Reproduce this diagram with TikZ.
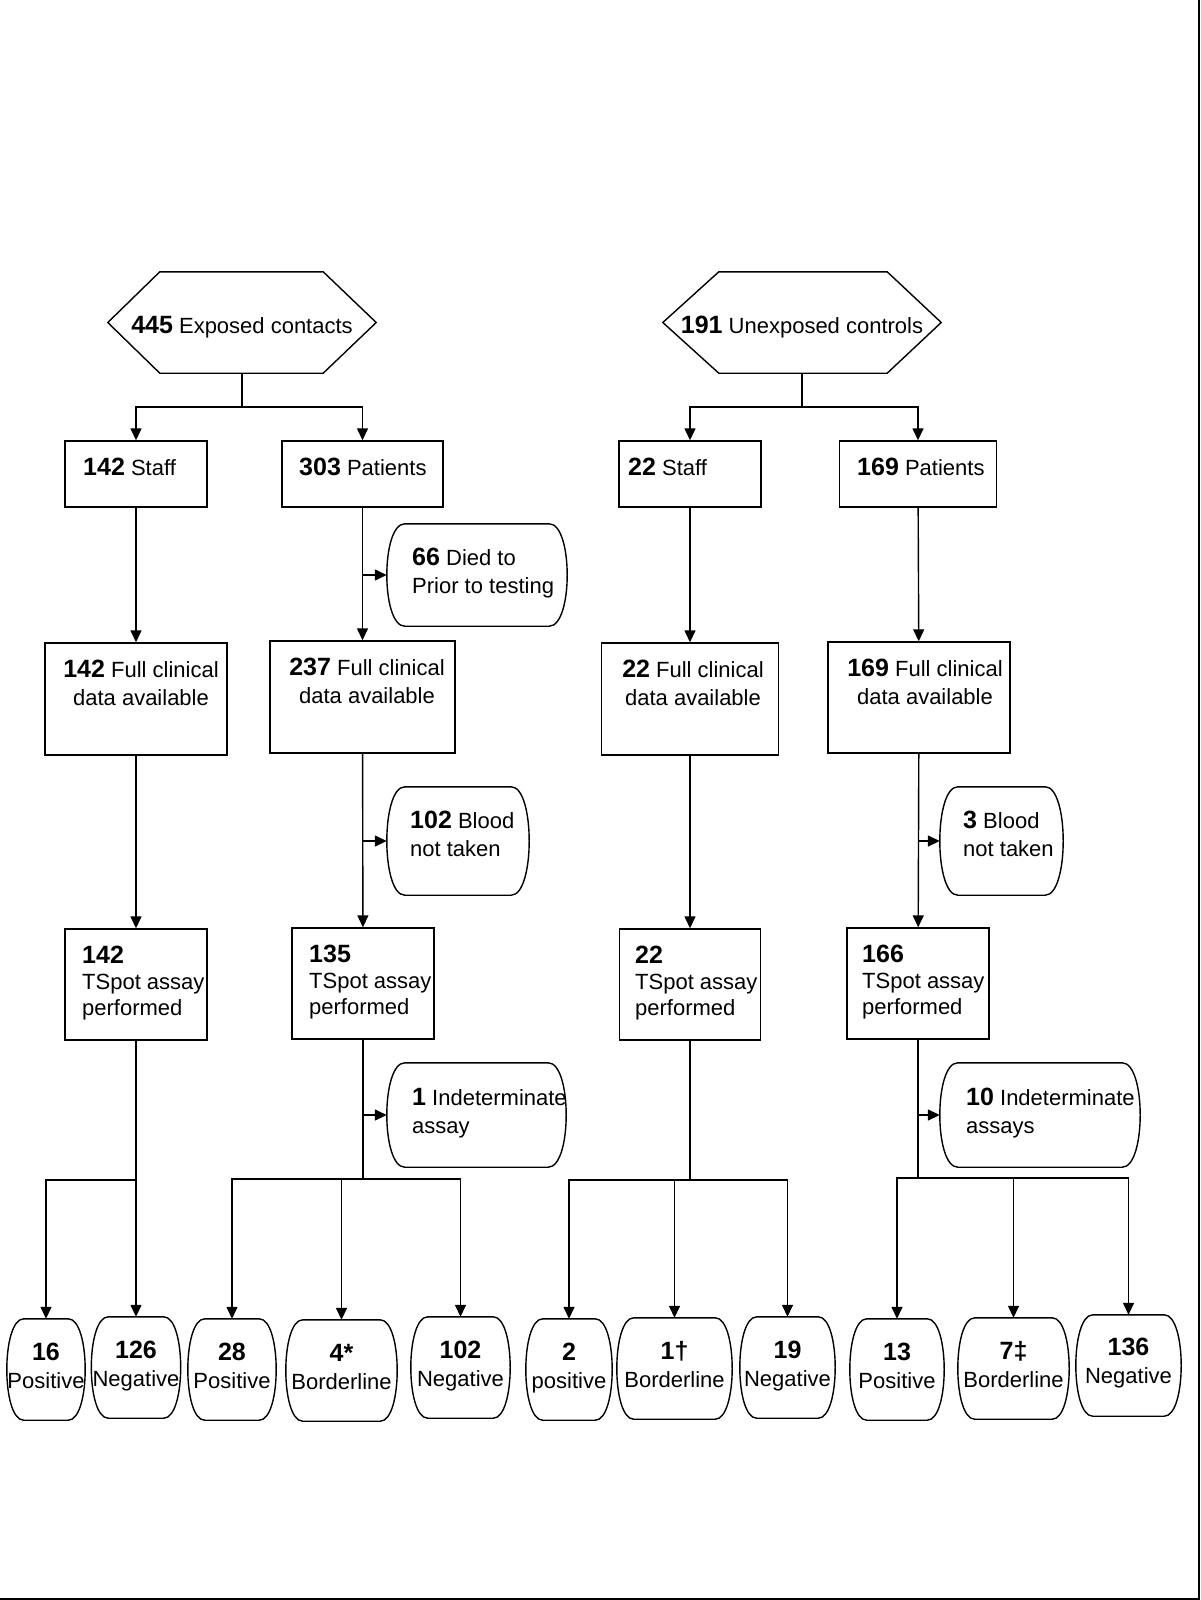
\documentclass[tikz,border=0pt]{standalone}
\usepackage{fontspec}
\setmainfont{Liberation Sans}
\usetikzlibrary{arrows.meta,calc}

\newcommand\bnum[1]{{\fontsize{25}{28}\selectfont\bfseries #1}}
\newcommand\mystrut{\rule{0pt}{18pt}}
\newcommand\barrel[2]{\draw[shp] ([xshift=#2]#1.north west) -- ([xshift=-#2]#1.north east) .. controls ([xshift={#2/3}]#1.north east) and ([xshift={#2/3}]#1.south east) .. ([xshift=-#2]#1.south east) -- ([xshift=#2]#1.south west) .. controls ([xshift={-#2/3}]#1.south west) and ([xshift={-#2/3}]#1.north west) .. cycle;}

\begin{document}
\begin{tikzpicture}[x=1pt, y=-1pt,
  txt/.style={font=\fontsize{22}{28}\selectfont, inner sep=0pt},
  tsp/.style={font=\fontsize{22}{26}\selectfont, inner sep=0pt, align=left},
  bx/.style={draw, line width=1.4pt, inner sep=0pt},
  ghost/.style={inner sep=0pt, draw=none},
  shp/.style={line width=1.4pt},
  arr/.style={line width=1.4pt, -{Triangle[length=12pt,width=11pt]}}]
\useasboundingbox (0,0) rectangle (1200,1600);
\draw[line width=2pt] (0,1599) -- (1199,1599) -- (1199,0);

% ---------- hexagons ----------
\node[ghost, minimum width=268pt, minimum height=101pt] (hexA) at (242,322.5) {};
\node[ghost, minimum width=278pt, minimum height=101pt] (hexB) at (802,322.5) {};
\draw[shp] (hexA.west) -- ([xshift=52pt]hexA.north west) -- ([xshift=-53pt]hexA.north east) -- (hexA.east) -- ([xshift=-53pt]hexA.south east) -- ([xshift=52pt]hexA.south west) -- cycle;
\draw[shp] (hexB.west) -- ([xshift=56pt]hexB.north west) -- ([xshift=-54pt]hexB.north east) -- (hexB.east) -- ([xshift=-54pt]hexB.south east) -- ([xshift=56pt]hexB.south west) -- cycle;
\node[txt, anchor=north] (hexAt) at (242,315) {\mystrut\bnum{445} Exposed contacts};
\node[txt, anchor=north] (hexBt) at (802,315) {\mystrut\bnum{191} Unexposed controls};

% ---------- level 1 ----------
\node[bx, minimum width=142pt, minimum height=66pt] (sA) at (136,474) {};
\node[bx, minimum width=161pt, minimum height=66pt] (pA) at (362.5,474) {};
\node[bx, minimum width=142pt, minimum height=66pt] (sB) at (690,474) {};
\node[bx, minimum width=157pt, minimum height=66pt] (pB) at (918,474) {};
\node[txt, anchor=north west] (sAt) at (83,457) {\mystrut\bnum{142} Staff};
\node[txt, anchor=north west] (pAt) at (299,457) {\mystrut\bnum{303} Patients};
\node[txt, anchor=north west] (sBt) at (628,457) {\mystrut\bnum{22} Staff};
\node[txt, anchor=north west] (pBt) at (857,457) {\mystrut\bnum{169} Patients};

% ---------- level 2 ----------
\node[bx, minimum width=182pt, minimum height=112pt] (C1) at (136,699) {};
\node[bx, minimum width=185pt, minimum height=112pt] (C2) at (362.5,697) {};
\node[bx, minimum width=177pt, minimum height=112pt] (C3) at (690,699) {};
\node[bx, minimum width=182pt, minimum height=111pt] (C4) at (919,697.5) {};
\node[txt, align=center, anchor=north] (C1t) at (141,659) {\mystrut\bnum{142} Full clinical\\data available};
\node[txt, align=center, anchor=north] (C2t) at (367,657) {\mystrut\bnum{237} Full clinical\\data available};
\node[txt, align=center, anchor=north] (C3t) at (693,659) {\mystrut\bnum{22} Full clinical\\data available};
\node[txt, align=center, anchor=north] (C4t) at (925,658) {\mystrut\bnum{169} Full clinical\\data available};

% ---------- side ovals ----------
\node[ghost, minimum width=180pt, minimum height=102pt] (O1) at (477,575) {};
\node[ghost, minimum width=142pt, minimum height=108pt] (O2) at (458,841) {};
\node[ghost, minimum width=123pt, minimum height=108pt] (O3) at (1001.5,841) {};
\node[ghost, minimum width=179pt, minimum height=104pt] (O4) at (476.5,1115) {};
\node[ghost, minimum width=200pt, minimum height=104pt] (O5) at (1040,1115) {};
\barrel{O1}{18pt}
\barrel{O2}{18pt}
\barrel{O3}{18pt}
\barrel{O4}{18pt}
\barrel{O5}{18pt}
\node[txt, align=left, anchor=north west] (O1t) at (412,547) {\mystrut\bnum{66} Died to\\Prior to testing};
\node[txt, align=left, anchor=north west] (O2t) at (410,810) {\mystrut\bnum{102} Blood\\not taken};
\node[txt, align=left, anchor=north west] (O3t) at (963,810) {\mystrut\bnum{3} Blood\\not taken};
\node[txt, align=left, anchor=north west] (O4t) at (412,1087) {\mystrut\bnum{1} Indeterminate\\assay};
\node[txt, align=left, anchor=north west] (O5t) at (966,1087) {\mystrut\bnum{10} Indeterminate\\assays};

% ---------- level 3 ----------
\node[bx, minimum width=142pt, minimum height=111pt] (T1) at (136,984.5) {};
\node[bx, minimum width=142pt, minimum height=111pt] (T2) at (363,983.5) {};
\node[bx, minimum width=141pt, minimum height=111pt] (T3) at (690,984.5) {};
\node[bx, minimum width=142pt, minimum height=111pt] (T4) at (918,983.5) {};
\node[tsp, anchor=north west] (T1t) at (82,945) {\mystrut\bnum{142}\\TSpot assay\\performed};
\node[tsp, anchor=north west] (T2t) at (309,944) {\mystrut\bnum{135}\\TSpot assay\\performed};
\node[tsp, anchor=north west] (T3t) at (635,945) {\mystrut\bnum{22}\\TSpot assay\\performed};
\node[tsp, anchor=north west] (T4t) at (862,944) {\mystrut\bnum{166}\\TSpot assay\\performed};

% ---------- bottom results ----------
\node[ghost, minimum width=78pt,  minimum height=101pt] (B1)  at (46,1369.5) {};
\node[ghost, minimum width=89pt,  minimum height=101pt] (B2)  at (136,1367.5) {};
\node[ghost, minimum width=88pt,  minimum height=101pt] (B3)  at (232,1369.5) {};
\node[ghost, minimum width=111pt, minimum height=101pt] (B4)  at (341.5,1370.5) {};
\node[ghost, minimum width=99pt,  minimum height=101pt] (B5)  at (460.5,1367.5) {};
\node[ghost, minimum width=86pt,  minimum height=101pt] (B6)  at (569,1369.5) {};
\node[ghost, minimum width=115pt, minimum height=101pt] (B7)  at (674.5,1368.5) {};
\node[ghost, minimum width=95pt,  minimum height=101pt] (B8)  at (787.5,1367.5) {};
\node[ghost, minimum width=94pt,  minimum height=101pt] (B9)  at (897,1369.5) {};
\node[ghost, minimum width=111pt, minimum height=101pt] (B10) at (1013.5,1368.5) {};
\node[ghost, minimum width=105pt, minimum height=101pt] (B11) at (1128.5,1365.5) {};
\foreach \b in {B1,B2,B3,B4,B5,B6,B7,B8,B9,B10,B11} {\barrel{\b}{17pt}}
\node[txt, align=center, anchor=north] (B1t)  at (46,1342)    {\mystrut\bnum{16}\\Positive};
\node[txt, align=center, anchor=north] (B2t)  at (136,1340)   {\mystrut\bnum{126}\\Negative};
\node[txt, align=center, anchor=north] (B3t)  at (232,1342)   {\mystrut\bnum{28}\\Positive};
\node[txt, align=center, anchor=north] (B4t)  at (341.5,1343) {\mystrut\bnum{4*}\\Borderline};
\node[txt, align=center, anchor=north] (B5t)  at (460.5,1340) {\mystrut\bnum{102}\\Negative};
\node[txt, align=center, anchor=north] (B6t)  at (569,1342)   {\mystrut\bnum{2}\\positive};
\node[txt, align=center, anchor=north] (B7t)  at (674.5,1341) {\mystrut\bnum{1†}\\Borderline};
\node[txt, align=center, anchor=north] (B8t)  at (787.5,1340) {\mystrut\bnum{19}\\Negative};
\node[txt, align=center, anchor=north] (B9t)  at (897,1342)   {\mystrut\bnum{13}\\Positive};
\node[txt, align=center, anchor=north] (B10t) at (1013.5,1341) {\mystrut\bnum{7‡}\\Borderline};
\node[txt, align=center, anchor=north] (B11t) at (1128.5,1337) {\mystrut\bnum{136}\\Negative};

% ---------- connectors ----------
\coordinate (jA) at (242,407);
\coordinate (jB) at (802,407);
\draw[shp] (hexA.south) -- (jA);
\draw[shp] (hexB.south) -- (jB);
\draw[arr] (jA) -| (sA.north);
\draw[arr] (jA) -| (pA.north);
\draw[arr] (jB) -| (sB.north);
\draw[arr] (jB) -| (pB.north);

\draw[arr] (sA) -- (C1);
\draw[arr] (pA) -- (C2);
\draw[arr] (sB) -- (C3);
\draw[arr] (pB) -- (C4);
\draw[arr] (C1) -- (T1);
\draw[arr] (C2) -- (T2);
\draw[arr] (C3) -- (T3);
\draw[arr] (C4) -- (T4);

\draw[arr] (pA.south |- O1.west) -- (O1.west);
\draw[arr] (C2.south |- O2.west) -- (O2.west);
\draw[arr] (C4.south |- O3.west) -- (O3.west);
\draw[arr] (T2.south |- O4.west) -- (O4.west);
\draw[arr] (T4.south |- O5.west) -- (O5.west);

\coordinate (g1) at (136,1180);
\coordinate (g2) at (363,1179);
\coordinate (g3) at (690,1180);
\coordinate (g4) at (918,1178);
\draw[shp] (T1) -- (g1);
\draw[shp] (T2) -- (g2);
\draw[shp] (T3) -- (g3);
\draw[shp] (T4) -- (g4);
\draw[arr] (g1) -| (B1.north);
\draw[arr] (g1) -| (B2.north);
\draw[arr] (g2) -| (B3.north);
\draw[arr] (g2) -| (B4.north);
\draw[arr] (g2) -| (B5.north);
\draw[arr] (g3) -| (B6.north);
\draw[arr] (g3) -| (B7.north);
\draw[arr] (g3) -| (B8.north);
\draw[arr] (g4) -| (B9.north);
\draw[arr] (g4) -| (B10.north);
\draw[arr] (g4) -| (B11.north);
\end{tikzpicture}
\end{document}
